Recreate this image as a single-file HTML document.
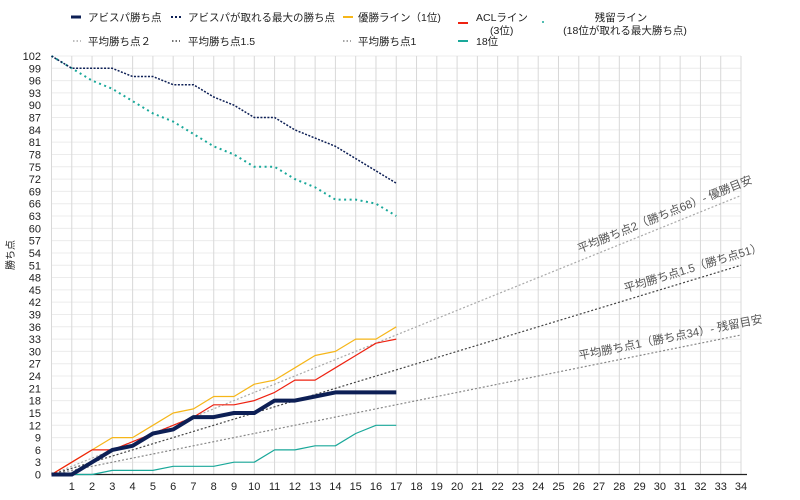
<!DOCTYPE html>
<html><head><meta charset="utf-8"><style>
body{margin:0;background:#fff;}
svg{display:block;font-family:"Liberation Sans","Noto Sans CJK JP",sans-serif;}
</style></head><body>
<svg id="chart" width="800" height="500" viewBox="0 0 800 500" xmlns="http://www.w3.org/2000/svg">
<g id="grid"></g>
<g id="axes"></g>
<g id="series"></g>
<g id="legend" font-size="10.5" fill="#222">
  <line x1="71" y1="17" x2="81" y2="17" stroke="#0d1f55" stroke-width="3"/>
  <text x="88" y="21">アビスパ勝ち点</text>
  <line x1="171" y1="17" x2="181" y2="17" stroke="#0d1f55" stroke-width="2" stroke-dasharray="2,2"/>
  <text x="188" y="21">アビスパが取れる最大の勝ち点</text>
  <line x1="343" y1="17" x2="353" y2="17" stroke="#f6b619" stroke-width="2"/>
  <text x="358" y="21">優勝ライン（1位)</text>
  <line x1="458" y1="23" x2="468" y2="23" stroke="#ee2211" stroke-width="2"/>
  <text x="476" y="21">ACLライン</text>
  <text x="490" y="34">(3位)</text>
  <circle cx="543" cy="22" r="1" fill="#1aa89a"/>
  <text x="621" y="21" text-anchor="middle">残留ライン</text>
  <text x="625" y="34" text-anchor="middle">(18位が取れる最大勝ち点)</text>
  <line x1="73" y1="41" x2="81" y2="41" stroke="#aaa" stroke-width="1.5" stroke-dasharray="1.5,2"/>
  <text x="88" y="45">平均勝ち点２</text>
  <line x1="172" y1="41" x2="180" y2="41" stroke="#444" stroke-width="1.5" stroke-dasharray="1.5,2"/>
  <text x="188" y="45">平均勝ち点1.5</text>
  <line x1="343" y1="41" x2="351" y2="41" stroke="#888" stroke-width="1.5" stroke-dasharray="1.5,2"/>
  <text x="358" y="45">平均勝ち点1</text>
  <line x1="458" y1="41" x2="468" y2="41" stroke="#1aa89a" stroke-width="2"/>
  <text x="476" y="45">18位</text>
</g>
<g id="labels" font-size="11.5" fill="#555"></g>
<text x="14" y="255" font-size="10" fill="#222" text-anchor="middle" transform="rotate(-90 14 255)">勝ち点</text>
</svg>
<script>
const rounds = [0,1,2,3,4,5,6,7,8,9,10,11,12,13,14,15,16,17];
const abispa = [0,0,3,6,7,10,11,14,14,15,15,18,18,19,20,20,20,20];
const abispaMax = [102,99,99,99,97,97,95,95,92,90,87,87,84,82,80,77,74,71];
const champion = [0,3,6,9,9,12,15,16,19,19,22,23,26,29,30,33,33,36];
const acl = [0,3,6,6,8,10,12,14,17,17,18,20,23,23,26,29,32,33];
const relegMax = [102,99,96,94,91,88,86,83,80,78,75,75,72,70,67,67,66,63];
const eighteenth = [0,0,0,1,1,1,2,2,2,3,3,6,6,7,7,10,12,12];
const avgRates = [2,1.5,1];
const avgLabels = ["平均勝ち点2（勝ち点68）- 優勝目安","平均勝ち点1.5（勝ち点51）","平均勝ち点1（勝ち点34）- 残留目安"];
const totalRounds = 34;
const yMax = 102;

const X0=51.5, X1=741, Y0=474.5, Y1=56;
const sx = v => X0 + v*(X1-X0)/totalRounds;
const sy = v => Y0 - v*(Y0-Y1)/yMax;
const NS="http://www.w3.org/2000/svg";
function mk(tag, attrs, parent){const e=document.createElementNS(NS,tag);for(const k in attrs)e.setAttribute(k,attrs[k]);parent.appendChild(e);return e;}
const grid=document.getElementById('grid'), axes=document.getElementById('axes'), series=document.getElementById('series'), labels=document.getElementById('labels');
for(let v=0; v<=yMax; v+=3){
  const l=mk('line',{x1:X0,x2:X1,y1:sy(v),y2:sy(v),stroke:'#ececec','stroke-width':1},grid);
  
  
  const t=mk('text',{x:41,y:sy(v)+4,'text-anchor':'end','font-size':11,fill:'#222'},axes);
  t.textContent=v;
  
  
}
for(let r=0; r<=totalRounds; r++){
  const l=mk('line',{x1:sx(r),x2:sx(r),y1:Y1,y2:Y0,stroke:'#d8d8d8','stroke-width':1},grid);
  
  
  if(r>0){
    const t=mk('text',{x:sx(r),y:490,'text-anchor':'middle','font-size':11,fill:'#222'},axes);
    t.textContent=r;
    
    
  }
}
const ax=mk('line',{x1:X0,x2:X1+6,y1:Y0,y2:Y0,stroke:'#222','stroke-width':1.2},axes);


const avgColors=['#aaa','#444','#888'];
const labelShift=[12,22,22];
avgRates.forEach((r,i)=>{
  const l=mk('line',{x1:sx(0),y1:sy(0),x2:sx(totalRounds),y2:sy(r*totalRounds),stroke:avgColors[i],'stroke-width':1.2,'stroke-dasharray':'2,2'},series);
  
  
  const ang=Math.atan2(sy(0)-sy(r*totalRounds), sx(totalRounds)-sx(0))*180/Math.PI;
  const xe=sx(totalRounds)+labelShift[i];
  const ye=sy(r*totalRounds)-8-labelShift[i]*Math.tan(ang*Math.PI/180);
  const t=mk('text',{x:xe,y:ye,'text-anchor':'end',transform:`rotate(${-ang} ${xe} ${ye})`},labels);
  t.textContent=avgLabels[i];
  
  
});
function path(vals,attrs,name){
  const d=vals.map((v,i)=>(i?'L':'M')+sx(rounds[i]).toFixed(1)+','+sy(v).toFixed(1)).join('');
  const p=mk('path',Object.assign({d:d,fill:'none','stroke-linejoin':'round'},attrs),series);
  
  
}
path(eighteenth,{stroke:'#1aa89a','stroke-width':1.2},'line-18th');
path(relegMax,{stroke:'#1aa89a','stroke-width':2,'stroke-dasharray':'2,3.5'},'line-relegation-max');
path(abispaMax,{stroke:'#0d1f55','stroke-width':1.5,'stroke-dasharray':'2,1.5'},'line-abispa-max');
path(champion,{stroke:'#f6b619','stroke-width':1.2},'line-champion');
path(acl,{stroke:'#ee2211','stroke-width':1.2},'line-acl');
path(abispa,{stroke:'#0d1f55','stroke-width':4},'line-abispa');
</script>
</body></html>
